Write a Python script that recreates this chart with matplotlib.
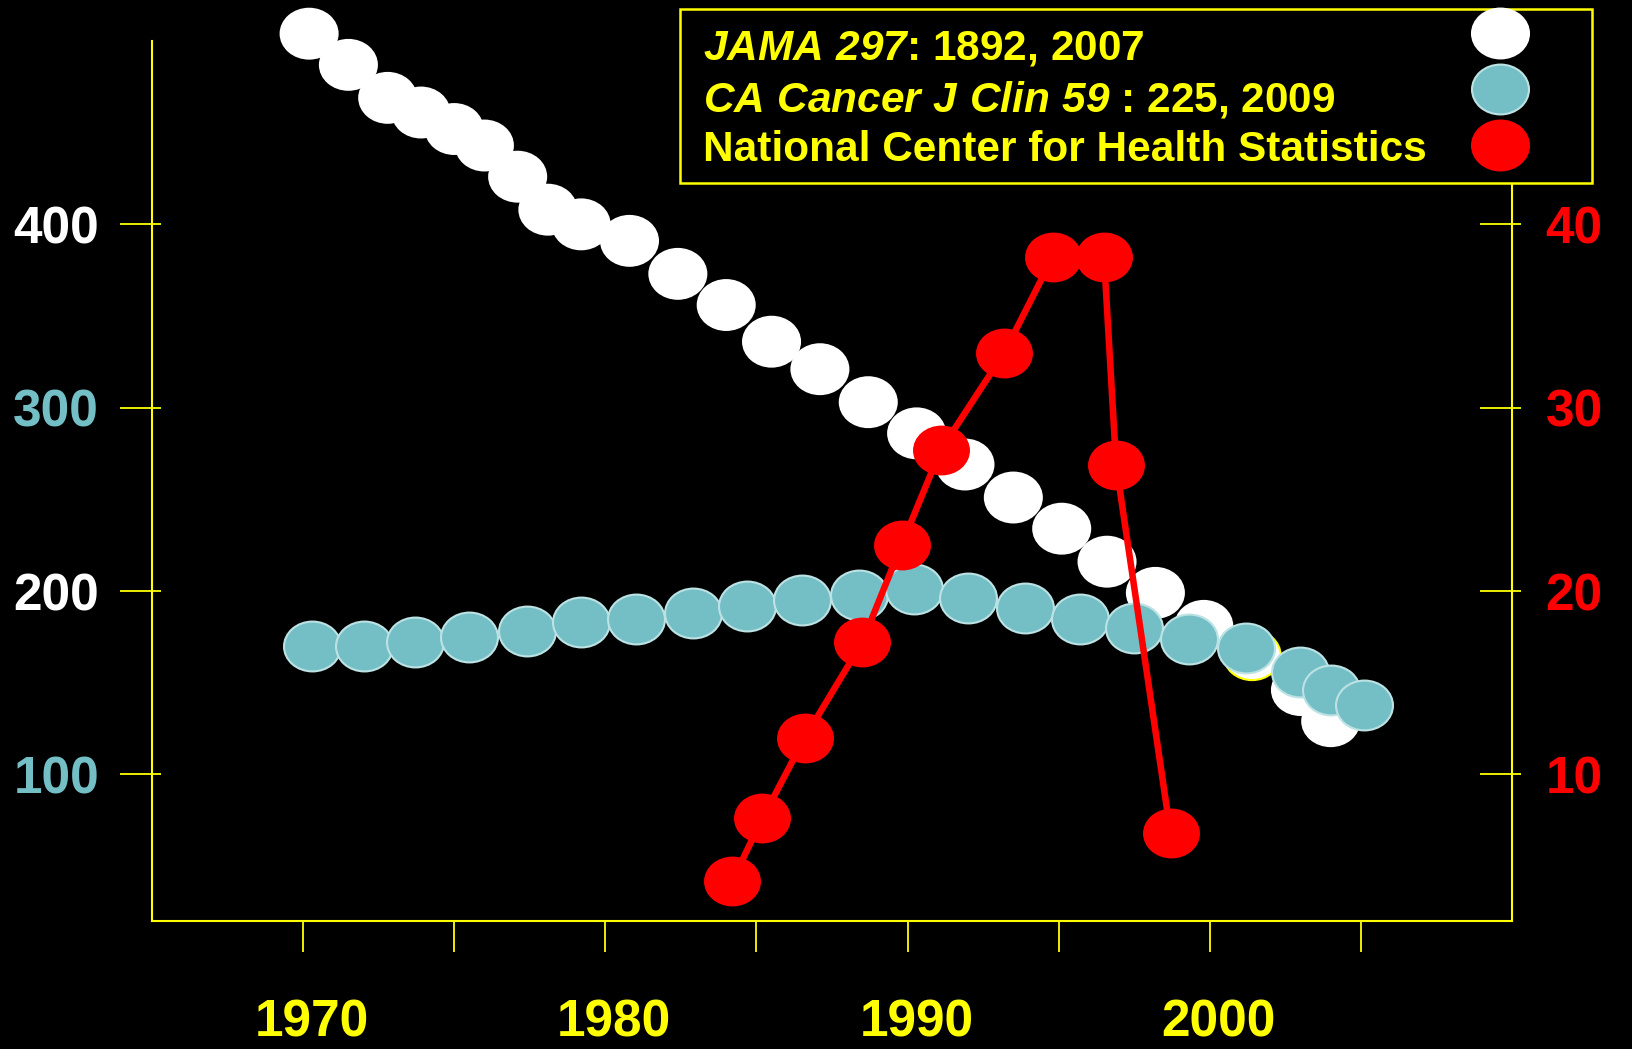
import matplotlib
matplotlib.use("Agg")
import matplotlib.pyplot as plt
from matplotlib.path import Path
from matplotlib.transforms import Affine2D, ScaledTranslation
from matplotlib.markers import MarkerStyle
from matplotlib.lines import Line2D
from matplotlib.patches import Rectangle
from matplotlib.ticker import FixedLocator

plt.rcParams['font.family'] = ['Liberation Sans', 'DejaVu Sans']
plt.rcParams['font.weight'] = 'bold'
# math parts are used only for the italic journal names
plt.rcParams['mathtext.fontset'] = 'custom'
plt.rcParams['mathtext.it'] = 'Liberation Sans:italic:bold'
plt.rcParams['mathtext.rm'] = 'Liberation Sans:italic:bold'

# JAMA 297: 1892, 2007 (left axis)
jama_years = [1970.2, 1971.5, 1972.8, 1973.9, 1975.0, 1976.0, 1977.1, 1978.1, 1979.2,
              1980.8, 1982.4, 1984.0, 1985.5, 1987.1, 1988.7, 1990.3, 1991.9, 1993.5,
              1995.1, 1996.6, 1998.2, 1999.8, 2001.4, 2003.0, 2004.0]
jama_vals = [504, 487, 469, 461, 452, 443, 426, 408, 400, 391, 373, 356, 336, 321, 303,
             286, 269, 251, 234, 216, 199, 181, 165, 146, 129]
jama_highlight = 22  # the one drawn with a yellow rim

# CA Cancer J Clin 59: 225, 2009 (left axis)
ca_years = [1970.3, 1972.0, 1973.7, 1975.5, 1977.4, 1979.2, 1981.0, 1982.9, 1984.7,
            1986.5, 1988.4, 1990.2, 1992.0, 1993.9, 1995.7, 1997.5, 1999.3, 2001.2,
            2003.0, 2004.0, 2005.1]
ca_vals = [170, 170, 172, 175, 178, 183, 185, 188, 192, 195, 198, 201, 196, 191, 185,
           180, 174, 169, 156, 146, 138]

# National Center for Health Statistics (right axis)
nchs_years = [1984.2, 1985.2, 1986.6, 1988.5, 1989.8, 1991.1, 1993.2, 1994.8, 1996.5,
              1996.9, 1998.7]
nchs_vals = [4.2, 7.6, 12.0, 17.2, 22.5, 27.7, 33.0, 38.2, 38.2, 26.9, 6.8]

x_ticks = [1970, 1975, 1980, 1985, 1990, 1995, 2000, 2005]
x_labels = ['1970', '', '1980', '', '1990', '', '2000', '']
left_ticks = [100, 200, 300, 400]
left_labels = ['100', '200', '300', '400']
right_ticks = [10, 20, 30, 40]
right_labels = ['10', '20', '30', '40']

legend_labels = [r"$JAMA\ 297$: 1892, 2007",
                 r"$CA\ Cancer\ J\ Clin\ 59$ : 225, 2009",
                 "National Center for Health Statistics"]

YEL = '#FFFF00'
TEAL = '#74BFC6'
TEAL_EDGE = '#BCE2E4'
RED = '#FF0000'
legend_colors = ['white', TEAL, RED]
legend_edges = ['white', TEAL_EDGE, RED]

# slightly flattened circle, like the original dots
ell = MarkerStyle(Path.unit_circle().transformed(Affine2D().scale(1.0, 0.875)))
msize = 41

W, H = 1632, 1049
fig = plt.figure(figsize=(W / 100, H / 100), dpi=100, facecolor='black')
ax = fig.add_axes([0.0931, 0.1220, 0.8334, 0.8389])
ax.set_facecolor('black')
ax.set_xlim(1965, 2010)
ax.set_ylim(20, 500)

white_edges = ['white'] * len(jama_years)
white_edges[jama_highlight] = YEL
ax.scatter(jama_years, jama_vals, s=msize ** 2, marker=ell, c='white',
           edgecolors=white_edges, linewidths=1.5, clip_on=False, zorder=3)
ax.scatter(ca_years, ca_vals, s=msize ** 2, marker=ell, c=TEAL,
           edgecolors=TEAL_EDGE, linewidths=1.5, clip_on=False, zorder=4)

ax2 = ax.twinx()
ax2.set_ylim(2, 50)
ax2.plot(nchs_years, nchs_vals, color=RED, lw=4.7, zorder=3)
ax2.scatter(nchs_years, nchs_vals, s=msize ** 2, marker=ell, c=RED,
            linewidths=0, clip_on=False, zorder=4)

# spines
for a in (ax, ax2):
    for s in a.spines.values():
        s.set_visible(False)
        s.set_color(YEL)
        s.set_linewidth(1.5)
ax.spines['left'].set_visible(True)
ax.spines['bottom'].set_visible(True)
ax2.spines['right'].set_visible(True)

# x ticks
ax.set_xticks(x_ticks, labels=x_labels)
ax.tick_params(axis='x', direction='out', length=22, width=1.3, color=YEL,
               labelsize=37, labelcolor=YEL, pad=34)
off = ScaledTranslation(9 / 100, 0, fig.dpi_scale_trans)
for lbl in ax.get_xticklabels():
    lbl.set_transform(lbl.get_transform() + off)

# left y ticks (cross the spine)
ax.set_yticks(left_ticks, labels=left_labels)
ax.yaxis.set_minor_locator(FixedLocator(left_ticks))
ax.yaxis.remove_overlapping_locs = False
ax.tick_params(axis='y', which='major', direction='out', length=23, width=1.3,
               color=YEL, labelsize=37, pad=15)
ax.tick_params(axis='y', which='minor', direction='in', length=6.5, width=1.3,
               color=YEL)
left_colors = [TEAL, 'white', TEAL, 'white']
for lbl, c in zip(ax.get_yticklabels(), left_colors):
    lbl.set_color(c)

# right y ticks
ax2.set_yticks(right_ticks, labels=right_labels)
ax2.yaxis.set_minor_locator(FixedLocator(right_ticks))
ax2.yaxis.remove_overlapping_locs = False
ax2.tick_params(axis='y', which='major', direction='in', length=23, width=1.3,
                color=YEL, labelsize=37, labelcolor=RED, pad=24)
ax2.tick_params(axis='y', which='minor', direction='out', length=6.5, width=1.3,
                color=YEL)

# legend box: text on the left, dots on the right
fig.add_artist(Rectangle((680 / W, 1 - 183 / H), 912 / W, 174 / H,
                         transform=fig.transFigure, facecolor='black',
                         edgecolor=YEL, lw=1.8, zorder=10))
text_base = [60, 111, 161]
dot_y = [33, 89, 145]
for lab, tb, dy, fc, ec in zip(legend_labels, text_base, dot_y, legend_colors,
                               legend_edges):
    fig.text(703 / W, 1 - tb / H, lab, color=YEL, fontsize=30.5,
             fontweight='bold', ha='left', va='baseline', zorder=11)
    fig.add_artist(Line2D([1500 / W], [1 - dy / H], transform=fig.transFigure,
                          ls='none', marker=ell, markersize=msize,
                          markerfacecolor=fc, markeredgecolor=ec,
                          markeredgewidth=1.5, zorder=11))

plt.savefig('out.png', dpi=100, facecolor='black')
